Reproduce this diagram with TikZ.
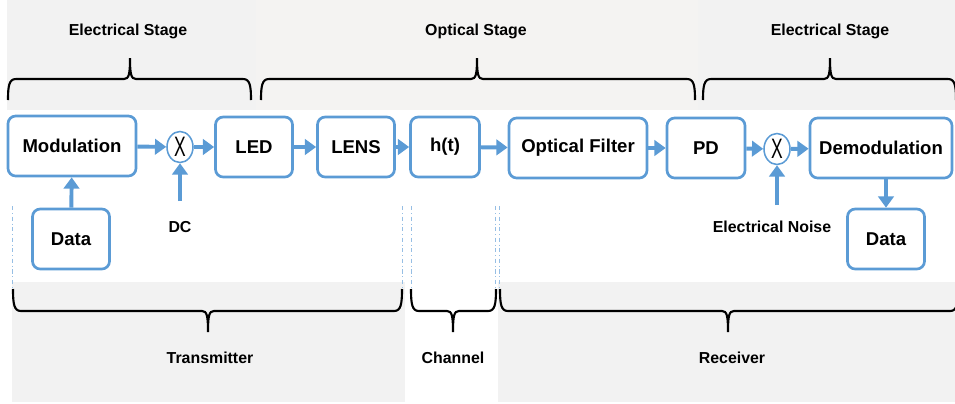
\documentclass[tikz,border=0pt]{standalone}
\usepackage{fontspec}
\setmainfont{Liberation Sans}
\usepackage{graphicx}
\usetikzlibrary{arrows.meta,shapes.geometric}
\definecolor{linkblue}{RGB}{91,155,213}
\definecolor{guideblue}{RGB}{150,190,228}
\definecolor{stagegray}{RGB}{242,242,242}
\definecolor{stagegraywarm}{RGB}{244,243,242}

% brace opening down (tip up): x1, x2, tip x, end y
\newcommand{\stagebrace}[4]{%
  \draw[bracepath] (#1,#4) .. controls (#1,#4-14) and (#1+1,#4-21) .. (#1+8,#4-21)
    -- (#3-6,#4-21) .. controls (#3-1,#4-21) and (#3,#4-26) .. (#3,#4-42)
    .. controls (#3,#4-26) and (#3+1,#4-21) .. (#3+6,#4-21)
    -- (#2-8,#4-21) .. controls (#2-1,#4-21) and (#2,#4-14) .. (#2,#4);}
% brace opening up (tip down): x1, x2, tip x, end y
\newcommand{\partbrace}[4]{%
  \draw[bracepath] (#1,#4) .. controls (#1,#4+15) and (#1+1,#4+22) .. (#1+8,#4+22)
    -- (#3-6,#4+22) .. controls (#3-1,#4+22) and (#3,#4+27) .. (#3,#4+43)
    .. controls (#3,#4+27) and (#3+1,#4+22) .. (#3+6,#4+22)
    -- (#2-8,#4+22) .. controls (#2-1,#4+22) and (#2,#4+15) .. (#2,#4);}

\begin{document}
\begin{tikzpicture}[x=0.025cm,y=-0.025cm,
  block/.style={draw=linkblue,line width=1.9pt,rounded corners=5.5pt,fill=white,
    minimum height=1.5cm,inner sep=0pt,font=\fontsize{13.2}{15}\selectfont\bfseries},
  mixer/.style={ellipse,draw=linkblue,line width=1.1pt,fill=white,
    minimum width=0.65cm,minimum height=0.775cm,inner sep=0pt},
  flow/.style={draw=linkblue,line width=2.8pt,-{Triangle[length=8pt,width=11pt]}},
  bracepath/.style={black,line width=1.5pt},
  stagelabel/.style={font=\fontsize{11.3}{13}\selectfont\bfseries},
  guide/.style={guideblue,line width=0.5pt,dash dot}]
\useasboundingbox (0,0) rectangle (955,403);

% Stage backgrounds
\fill[stagegray] (7,0) rectangle (256,110);
\fill[stagegraywarm] (256,0) rectangle (698,110);
\fill[stagegray] (698,0) rectangle (955,110);
\fill[stagegray] (12,282) rectangle (405,402);
\fill[stagegray] (498,282) rectangle (955,402);

% Guide lines
\foreach \gx in {12,402,411,495,499}
  \draw[guide] (\gx,206) -- (\gx,289);

% Stage braces and labels
\node[stagelabel] (elecin) at (128,31) {Electrical Stage};
\node[stagelabel] (optic) at (476,31) {Optical Stage};
\node[stagelabel] (elecout) at (830,31) {Electrical Stage};
\stagebrace{8}{251}{130}{100}
\stagebrace{261}{695}{477}{100}
\stagebrace{703}{956}{830}{100}

% Part braces and labels
\partbrace{13}{402}{208}{289}
\partbrace{411}{496}{453}{289}
\partbrace{500}{958}{728}{289}
\node[stagelabel] (tx) at (210,358) {Transmitter};
\node[stagelabel] (chan) at (453,358) {Channel};
\node[stagelabel] (rx) at (732,358) {Receiver};

% Signal chain
\node[block,minimum width=3.2cm] (mod) at (72,146) {Modulation};
\node[mixer] (mixtx) at (180,147) {\scalebox{0.62}[1]{\fontsize{20}{20}\selectfont X}};
\node[block,minimum width=1.925cm] (led) at (254,147) {LED};
\node[block,minimum width=1.925cm] (lens) at (356,147) {LENS};
\node[block,minimum width=1.725cm] (ht) at (445,147) {h(t)};
\node[block,minimum width=3.45cm] (filter) at (578,148) {Optical Filter};
\node[block,minimum width=1.95cm] (pd) at (706,148) {PD};
\node[mixer] (mixrx) at (777,149) {\scalebox{0.62}[1]{\fontsize{20}{20}\selectfont X}};
\node[block,minimum width=3.55cm] (demod) at (881,148) {Demodulation};
\node[block,minimum width=1.925cm] (datain) at (71,239) {Data};
\node[block,minimum width=1.925cm] (dataout) at (886,239) {Data};
\node[stagelabel] (dc) at (180,227) {DC};
\node[stagelabel] (noise) at (772,227) {Electrical Noise};
\coordinate (dcin) at (180,201);
\coordinate (noisein) at (777,205);

% Arrows
\draw[flow] (mod) -- (mixtx);
\draw[flow] (mixtx) -- (led);
\draw[flow] (led) -- (lens);
\draw[flow] (lens) -- (ht);
\draw[flow] (ht) -- (filter);
\draw[flow] (filter) -- (pd);
\draw[flow] (pd) -- (mixrx);
\draw[flow] (mixrx) -- (demod);
\draw[flow] (datain) -- (mod);
\draw[flow] (dcin) -- (mixtx);
\draw[flow] (noisein) -- (mixrx);
\draw[flow] (demod.south -| dataout) -- (dataout);
\end{tikzpicture}
\end{document}
